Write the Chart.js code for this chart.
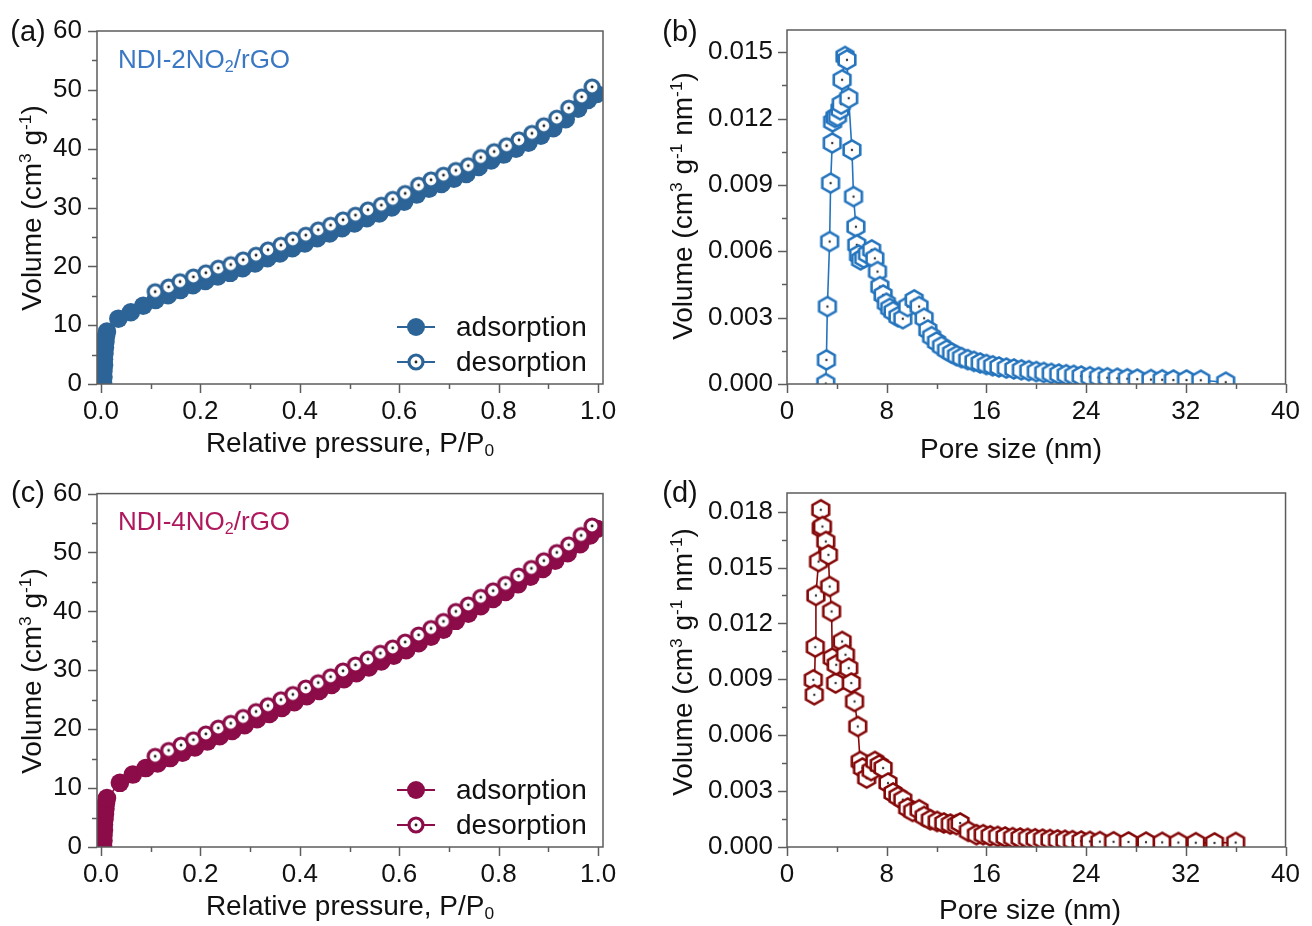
<!DOCTYPE html>
<html><head><meta charset="utf-8">
<script src="https://cdn.jsdelivr.net/npm/chart.js@4.4.0/dist/chart.umd.min.js"></script>
<style>
html,body{margin:0;padding:0;background:#fff;}
#fig{position:relative;width:1312px;height:926px;overflow:hidden;font-family:"Liberation Sans",Arial,sans-serif;}
#fig canvas{position:absolute;}
.t{position:absolute;white-space:nowrap;color:#111;line-height:1;transform:translate(-50%,-50%);}
.v{transform:translate(-50%,-50%) rotate(-90deg);}
sup,sub{font-size:0.62em;line-height:0;}
sup{vertical-align:0.6em;}
sub{vertical-align:-0.25em;}
</style></head>
<body>
<div id="fig">
  <canvas id="ca" width="656" height="463" style="left:0;top:0"></canvas>
  <canvas id="cb" width="656" height="463" style="left:656px;top:0"></canvas>
  <canvas id="cc" width="656" height="463" style="left:0;top:463px"></canvas>
  <canvas id="cd" width="656" height="463" style="left:656px;top:463px"></canvas>

  <div class="t" style="left:28px;top:31px;font-size:29px">(a)</div>
  <div class="t" style="left:680px;top:31px;font-size:29px">(b)</div>
  <div class="t" style="left:28px;top:492px;font-size:29px">(c)</div>
  <div class="t" style="left:680px;top:492px;font-size:29px">(d)</div>

  <div class="t" style="left:204px;top:59px;font-size:26px;color:#3a78c4">NDI-2NO<sub>2</sub>/rGO</div>
  <div class="t" style="left:204px;top:521px;font-size:26px;color:#b0185e">NDI-4NO<sub>2</sub>/rGO</div>

  <div class="t v" style="left:32px;top:208px;font-size:28px">Volume (cm<sup>3</sup> g<sup>-1</sup>)</div>
  <div class="t v" style="left:683px;top:206px;font-size:28px">Volume (cm<sup>3</sup> g<sup>-1</sup> nm<sup>-1</sup>)</div>
  <div class="t v" style="left:32px;top:671px;font-size:28px">Volume (cm<sup>3</sup> g<sup>-1</sup>)</div>
  <div class="t v" style="left:683px;top:662px;font-size:28px">Volume (cm<sup>3</sup> g<sup>-1</sup> nm<sup>-1</sup>)</div>

  <div class="t" style="left:350px;top:443px;font-size:28px">Relative pressure, P/P<sub>0</sub></div>
  <div class="t" style="left:1011px;top:449px;font-size:28px">Pore size (nm)</div>
  <div class="t" style="left:350px;top:906px;font-size:28px">Relative pressure, P/P<sub>0</sub></div>
  <div class="t" style="left:1030px;top:910px;font-size:28px">Pore size (nm)</div>
</div>
<script>
// ---------------- data ----------------
// (a) NDI-2NO2/rGO isotherm
const aAdsP = [0.004,0.005,0.005,0.006,0.006,0.007,0.008,0.009,0.010,0.012,0.035,0.060,0.085,0.110,0.135,0.160,0.185,0.210,0.235,0.260,0.285,0.310,0.335,0.360,0.385,0.410,0.435,0.460,0.485,0.510,0.535,0.560,0.585,0.610,0.635,0.660,0.685,0.710,0.735,0.760,0.785,0.810,0.835,0.860,0.885,0.910,0.935,0.960,0.980,0.997];
const aAdsV = [0.3,1.2,2.2,3.2,4.2,5.2,6.2,7.2,8.1,8.9,11.1,12.2,13.3,14.3,15.1,16.0,16.8,17.5,18.3,18.9,19.7,20.5,21.4,22.2,23.1,23.9,24.8,25.6,26.5,27.3,28.2,29.0,30.0,31.0,32.2,33.2,34.0,34.9,35.7,36.9,38.0,39.0,40.0,41.0,42.2,43.5,45.0,46.8,48.3,49.3];
const aDesP = [0.109,0.136,0.159,0.186,0.211,0.236,0.261,0.286,0.312,0.336,0.362,0.386,0.412,0.437,0.462,0.487,0.512,0.537,0.564,0.587,0.612,0.639,0.664,0.689,0.714,0.739,0.764,0.791,0.816,0.841,0.867,0.891,0.917,0.941,0.967,0.988];
const aDesV = [15.7,16.5,17.4,18.2,18.9,19.7,20.3,21.1,21.9,22.8,23.6,24.5,25.3,26.2,27.0,27.9,28.7,29.6,30.4,31.4,32.4,33.8,34.7,35.5,36.3,37.1,38.5,39.5,40.5,41.5,42.6,43.9,45.2,46.9,48.8,50.5];

// (c) NDI-4NO2/rGO isotherm
const cAdsP = [0.004,0.005,0.005,0.006,0.006,0.007,0.008,0.009,0.010,0.012,0.038,0.064,0.090,0.114,0.139,0.164,0.189,0.214,0.239,0.264,0.289,0.314,0.339,0.364,0.389,0.414,0.439,0.464,0.489,0.514,0.539,0.564,0.589,0.614,0.639,0.664,0.689,0.714,0.739,0.764,0.789,0.814,0.839,0.864,0.889,0.914,0.939,0.964,0.984,0.998];
const cAdsV = [0.3,1.1,2.0,2.9,3.8,4.7,5.6,6.5,7.4,8.3,10.9,12.3,13.4,14.2,15.1,16.0,16.9,17.9,18.8,19.7,20.7,21.7,22.6,23.6,24.6,25.6,26.5,27.5,28.5,29.5,30.5,31.5,32.5,33.4,34.6,35.7,36.9,38.4,39.6,40.9,42.1,43.3,44.6,45.9,47.2,48.6,49.9,51.4,52.9,54.0];
const cDesP = [0.109,0.136,0.161,0.186,0.211,0.236,0.261,0.286,0.312,0.336,0.362,0.386,0.412,0.437,0.462,0.487,0.512,0.537,0.562,0.587,0.612,0.639,0.664,0.689,0.714,0.739,0.764,0.789,0.814,0.840,0.866,0.891,0.917,0.941,0.966,0.988];
const cDesV = [15.4,16.4,17.3,18.2,19.2,20.2,21.0,22.0,23.0,24.0,25.0,25.9,27.0,27.9,28.9,29.9,30.9,31.9,32.9,33.8,34.8,36.0,37.1,38.3,40.0,41.1,42.4,43.5,44.6,46.0,47.3,48.6,50.0,51.3,52.9,54.5];

// (b) NDI-2NO2/rGO pore size distribution
const bSize = [3.11,3.16,3.24,3.42,3.50,3.63,3.66,3.85,4.05,4.25,4.35,4.42,4.65,4.81,4.95,5.21,5.34,5.53,5.60,5.74,5.90,6.15,6.45,6.79,7.05,7.26,7.45,7.71,7.97,8.24,8.50,8.90,9.29,9.68,10.2,10.6,11.0,11.3,11.6,12.0,12.4,12.8,13.2,13.6,14.0,14.5,15.0,15.5,16.0,16.5,17.0,17.6,18.2,18.8,19.4,20.0,20.6,21.2,21.8,22.4,23.0,23.6,24.3,25.0,25.7,26.5,27.3,28.1,29.2,30.1,31.0,32.05,33.2,35.2];
const bVol = [0.00002,0.00109,0.0035,0.00644,0.00908,0.01089,0.01185,0.01205,0.0121,0.0124,0.01265,0.01375,0.0148,0.01465,0.01292,0.01058,0.00847,0.00711,0.00629,0.00583,0.00561,0.0057,0.00588,0.00606,0.00568,0.00508,0.0044,0.00402,0.00365,0.00342,0.00327,0.00304,0.00295,0.0035,0.0038,0.0035,0.00297,0.00244,0.00214,0.0019,0.0017,0.00153,0.0014,0.00128,0.00119,0.0011,0.00102,0.00095,0.00088,0.00082,0.00077,0.00072,0.00068,0.00064,0.0006,0.00056,0.00052,0.00048,0.00045,0.00042,0.00039,0.00036,0.00033,0.0003,0.00028,0.00026,0.00024,0.00022,0.0002,0.00019,0.00018,0.00018,0.00017,0.00008];

// (d) NDI-4NO2/rGO pore size distribution
const dSize = [2.11,2.19,2.27,2.32,2.53,2.71,2.75,2.84,3.11,3.32,3.42,3.58,3.63,3.90,3.95,4.42,4.69,4.95,5.16,5.42,5.68,5.87,6.05,6.39,6.75,7.05,7.40,7.71,8.10,8.50,8.90,9.29,9.68,10.08,10.6,11.0,11.5,12.05,12.58,13.1,13.6,13.89,14.55,15.2,15.74,16.3,16.9,17.5,18.1,18.7,19.3,19.9,20.5,21.1,21.7,22.3,22.9,23.6,24.3,25.1,26.2,27.4,28.8,30.1,31.4,32.8,34.3,36.0];
const dVol = [0.00897,0.00817,0.01073,0.0135,0.01532,0.0181,0.01711,0.0172,0.0164,0.01568,0.01398,0.01264,0.01014,0.0088,0.00978,0.01103,0.01032,0.0096,0.0088,0.00781,0.00647,0.00459,0.00424,0.0037,0.0041,0.00459,0.0044,0.00424,0.00343,0.0029,0.0027,0.00254,0.00209,0.00191,0.002,0.00164,0.00146,0.00137,0.00129,0.00123,0.0012,0.00129,0.00084,0.00066,0.00066,0.0006,0.00057,0.00054,0.0005,0.00048,0.00046,0.00044,0.00042,0.0004,0.00038,0.00036,0.00034,0.00032,0.0003,0.00029,0.00028,0.00027,0.00026,0.00025,0.00024,0.00023,0.00022,0.00024];

// tick values
const pressureTicks = [0,0.2,0.4,0.6,0.8,1.0];
const isoVolTicks = [0,10,20,30,40,50,60];
const poreTicks = [0,8,16,24,32,40];
const bVolTicks = [0,0.003,0.006,0.009,0.012,0.015];
const dVolTicks = [0,0.003,0.006,0.009,0.012,0.015,0.018];
const seriesNames = ['adsorption','desorption'];

// ---------------- style ----------------
const FONT = '"Liberation Sans", Arial, sans-serif';
const AXIS = '#5c5c5c';
const COL_A = '#2d6497', COL_B = '#2474bd', COL_C = '#8b0c48', COL_D = '#850808';

function openCircle(color){
  const c = document.createElement('canvas'); c.width = c.height = 22;
  const g = c.getContext('2d');
  g.beginPath(); g.arc(11,11,7.0,0,Math.PI*2); g.fillStyle='#fff'; g.fill();
  g.lineWidth = 3.2; g.strokeStyle = color; g.stroke();
  g.beginPath(); g.arc(11,11,1.4,0,Math.PI*2); g.fillStyle='#222'; g.fill();
  return c;
}
function hexagon(color){
  const c = document.createElement('canvas'); c.width = c.height = 26;
  const g = c.getContext('2d');
  g.beginPath();
  for (let k=0;k<6;k++){ const an=-Math.PI/2+k*Math.PI/3; const px=13+9.6*Math.cos(an), py=13+9.6*Math.sin(an); if(k) g.lineTo(px,py); else g.moveTo(px,py); }
  g.closePath(); g.fillStyle='#fff'; g.fill();
  g.lineWidth = 2.6; g.strokeStyle = color; g.lineJoin='miter'; g.stroke();
  g.beginPath(); g.arc(13,13,1.2,0,Math.PI*2); g.fillStyle='#333'; g.fill();
  return c;
}
const pts = (xs, ys) => xs.map((x,i)=>({x:x, y:ys[i]}));
const mids = arr => arr.slice(1).map((v,i)=>(v+arr[i])/2);

const framePlugin = {
  id:'frame',
  afterDatasetsDraw(chart, args, o){
    const {ctx, chartArea:a, scales} = chart;
    ctx.save();
    ctx.strokeStyle = AXIS; ctx.lineWidth = 1.5;
    ctx.strokeRect(a.left, a.top, a.right-a.left, a.bottom-a.top);
    const seg = (x1,y1,x2,y2)=>{ctx.beginPath();ctx.moveTo(x1,y1);ctx.lineTo(x2,y2);ctx.stroke();};
    const xs = scales.x, ys = scales.y;
    o.xt.forEach(v=>{const p=Math.round(xs.getPixelForValue(v))+0.5; seg(p,a.bottom,p,a.bottom+9);});
    mids(o.xt).forEach(v=>{const p=Math.round(xs.getPixelForValue(v))+0.5; seg(p,a.bottom,p,a.bottom+5);});
    o.yt.forEach(v=>{const p=Math.round(ys.getPixelForValue(v))+0.5; seg(a.left,p,a.left-9,p);});
    mids(o.yt).forEach(v=>{const p=Math.round(ys.getPixelForValue(v))+0.5; seg(a.left,p,a.left-5,p);});
    ctx.restore();
  }
};
const legendPlugin = {
  id:'legendIn',
  afterDraw(chart, args, o){
    if (!o || !o.color) return;
    const {ctx, chartArea:a} = chart;
    const mx = a.right - 187;
    const rows = [a.bottom-57, a.bottom-22];
    ctx.save();
    rows.forEach((y,i)=>{
      ctx.strokeStyle = o.color; ctx.lineWidth = 1.8;
      ctx.beginPath(); ctx.moveTo(mx-19,y); ctx.lineTo(mx+19,y); ctx.stroke();
      if (i===0){ ctx.beginPath(); ctx.arc(mx,y,9,0,Math.PI*2); ctx.fillStyle=o.color; ctx.fill(); }
      else { ctx.drawImage(o.img, mx-11, y-11); }
      ctx.fillStyle = '#111'; ctx.font = '28px ' + FONT; ctx.textBaseline='middle'; ctx.textAlign='left';
      ctx.fillText(seriesNames[i], mx+40, y+1);
    });
    ctx.restore();
  }
};

function makeScales(p){
  return {
    x:{type:'linear', position:'bottom', min:p.xmin, max:p.xmax,
       afterBuildTicks:s=>{s.ticks=p.xt.map(v=>({value:v}));},
       afterFit:s=>{s.height=p.xh;},
       grid:{display:false, drawTicks:false}, border:{display:false},
       ticks:{padding:p.xpad, autoSkip:false, maxRotation:0, color:'#111', font:{family:FONT,size:26}, callback:p.xf}},
    y:{type:'linear', position:'left', min:p.ymin, max:p.ymax,
       afterBuildTicks:s=>{s.ticks=p.yt.map(v=>({value:v}));},
       afterFit:s=>{s.width=p.yw;},
       grid:{display:false, drawTicks:false}, border:{display:false},
       ticks:{padding:p.ypad, autoSkip:false, color:'#111', font:{family:FONT,size:26}, callback:p.yf}}
  };
}

function isoChart(id, col, adsP, adsV, desP, desV, topPad){
  const openImg = openCircle(col);
  return new Chart(document.getElementById(id), {
    type:'scatter',
    data:{datasets:[
      {label:seriesNames[1], data:pts(desP,desV), order:0, showLine:true, borderColor:col, borderWidth:1.5,
       pointStyle:openImg, pointRadius:9, pointHoverRadius:9, clip:0},
      {label:seriesNames[0], data:pts(adsP,adsV), order:1, showLine:true, borderColor:col, borderWidth:1.5,
       pointStyle:'circle', pointRadius:9.3, pointBackgroundColor:col, pointBorderWidth:0, pointHoverRadius:9.3, clip:0}
    ]},
    options:{
      responsive:false, animation:false, devicePixelRatio:1,
      layout:{padding:{left:0, top:topPad, right:53, bottom:0}},
      plugins:{legend:{display:false}, tooltip:{enabled:false}, frame:{xt:pressureTicks, yt:isoVolTicks}, legendIn:{color:col, img:openImg}},
      scales:makeScales({xmin:-0.008, xmax:1.01, xt:pressureTicks, xh:79, xpad:12, xf:v=>v.toFixed(1),
                         ymin:0, ymax:60, yt:isoVolTicks, yw:97, ypad:15, yf:v=>String(v)})
    },
    plugins:[framePlugin, legendPlugin]
  });
}
function psdChart(id, col, xs, ys, yt, ymax, topPad){
  const hex = hexagon(col);
  return new Chart(document.getElementById(id), {
    type:'scatter',
    data:{datasets:[
      {label:'pore size distribution', data:pts(xs,ys), showLine:true, borderColor:col, borderWidth:1.6,
       pointStyle:hex, pointRadius:10, pointHoverRadius:10, clip:0}
    ]},
    options:{
      responsive:false, animation:false, devicePixelRatio:1,
      layout:{padding:{left:0, top:topPad, right:18, bottom:0}},
      plugins:{legend:{display:false}, tooltip:{enabled:false}, frame:{xt:poreTicks, yt:yt}},
      scales:makeScales({xmin:0, xmax:40, xt:poreTicks, xh:79, xpad:12, xf:v=>String(v),
                         ymin:0, ymax:ymax, yt:yt, yw:131, ypad:14, yf:v=>v.toFixed(3)})
    },
    plugins:[framePlugin]
  });
}

isoChart('ca', COL_A, aAdsP, aAdsV, aDesP, aDesV, 31);
isoChart('cc', COL_C, cAdsP, cAdsV, cDesP, cDesV, 30);
psdChart('cb', COL_B, bSize, bVol, bVolTicks, 0.016, 30);
psdChart('cd', COL_D, dSize, dVol, dVolTicks, 0.019, 30);
</script>
</body></html>
